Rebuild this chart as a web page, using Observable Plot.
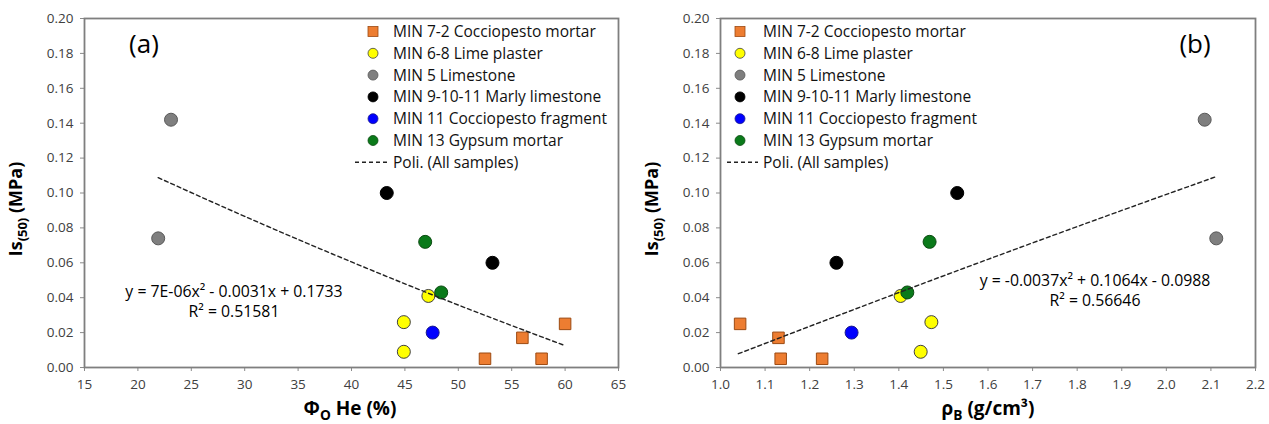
<!DOCTYPE html>
<html>
<head>
<meta charset="utf-8">
<script src="https://cdn.jsdelivr.net/npm/d3@7"></script>
<script src="https://cdn.jsdelivr.net/npm/@observablehq/plot@0.6"></script>
<style>
  html, body { margin: 0; padding: 0; background: #fff; }
  #wrap { display: flex; width: 1269px; height: 424px; }
</style>
</head>
<body>
<div id="wrap"></div>
<script>
// ---- data ----
const groups = ["MIN 7-2 Cocciopesto mortar", "MIN 6-8 Lime plaster", "MIN 5 Limestone",
  "MIN 9-10-11 Marly limestone", "MIN 11 Cocciopesto fragment", "MIN 13 Gypsum mortar"];
const groupFill = ["#ED7D31", "#FFFF00", "#7F7F7F", "#000000", "#0000FF", "#0A7A1A"];
const groupStroke = ["#9C4A12", "#404040", "#595959", "#000000", "#1a1a8c", "#0a4a10"];
const groupSymbol = ["square", "circle", "circle", "circle", "circle", "circle"];

const sampleGroup = [0, 0, 0, 0, 1, 1, 1, 2, 2, 3, 3, 4, 5, 5];
const porosity = [52.5, 56.0, 57.8, 60.0, 44.9, 44.9, 47.2, 21.9, 23.1, 43.3, 53.2, 47.6, 46.9, 48.4];
const density = [1.228, 1.130, 1.135, 1.044, 1.473, 1.449, 1.404, 2.112, 2.086, 1.531, 1.260, 1.294, 1.469, 1.419];
const strength = [0.005, 0.017, 0.005, 0.025, 0.026, 0.009, 0.041, 0.074, 0.142, 0.100, 0.060, 0.020, 0.072, 0.043];

const trendAx = [21.9, 30, 40, 50, 60];
const trendAy = [0.1088, 0.0866, 0.0605, 0.0358, 0.0125];
const trendBx = [1.04, 1.3, 1.6, 1.9, 2.11];
const trendBy = [0.0079, 0.0333, 0.0620, 0.0900, 0.1092];

const xTicksA = [15, 20, 25, 30, 35, 40, 45, 50, 55, 60, 65];
const xTicksB = [1.0, 1.1, 1.2, 1.3, 1.4, 1.5, 1.6, 1.7, 1.8, 1.9, 2.0, 2.1, 2.2];
const yTicks = [0, 0.02, 0.04, 0.06, 0.08, 0.10, 0.12, 0.14, 0.16, 0.18, 0.20];

const eqA = ["y = 7E-06x² - 0.0031x + 0.1733", "R² = 0.51581"];
const eqB = ["y = -0.0037x² + 0.1064x - 0.0988", "R² = 0.56646"];
const trendLabel = "Poli. (All samples)";

// ---- build tables ----
const samples = strength.map((s, i) => ({
  g: sampleGroup[i], phi: porosity[i], rho: density[i], is: s
}));
const trendA = trendAx.map((x, i) => ({x, y: trendAy[i]}));
const trendB = trendBx.map((x, i) => ({x, y: trendBy[i]}));

const FONT = "'Open Sans', Lato, sans-serif";

function makePanel({width, marginLeft, marginRight, xDomain, xTicks, xFmt, xKey, trend}) {
  return Plot.plot({
    width, height: 424,
    marginLeft, marginRight, marginTop: 18, marginBottom: 57,
    style: {fontFamily: FONT, fontSize: "13.5px", background: "#fff", color: "#404040", overflow: "visible"},
    x: {domain: xDomain},
    y: {domain: [0, 0.2]},
    symbol: {type: "identity"},
    marks: [
      Plot.axisY({ticks: yTicks, tickFormat: d3.format(".2f"), tickSize: 4, tickPadding: 7,
        label: null, stroke: "#8a8a8a", fill: "#404040", fontSize: 13.5}),
      Plot.axisX({ticks: xTicks, tickFormat: xFmt, tickSize: 4, tickPadding: 8,
        label: null, stroke: "#8a8a8a", fill: "#404040", fontSize: 13.5}),
      Plot.dot(samples, {
        x: xKey, y: "is", r: 6.5,
        symbol: d => groupSymbol[d.g],
        fill: d => groupFill[d.g],
        stroke: d => groupStroke[d.g],
        strokeWidth: 1
      }),
      Plot.line(trend, {x: "x", y: "y", curve: "natural", stroke: "#222",
        strokeWidth: 1.4, strokeDasharray: "4,3"}),
      Plot.frame({stroke: "#7f7f7f", strokeWidth: 1.8})
    ]
  });
}

function addText(svg, {x, y, anchor = "middle", size = 15, weight = "normal", rotate = 0, fill = "#000", parts}) {
  const t = d3.select(svg).append("text")
    .attr("transform", `translate(${x},${y}) rotate(${rotate})`)
    .attr("text-anchor", anchor)
    .attr("font-family", FONT)
    .attr("font-size", size)
    .attr("font-weight", weight)
    .attr("fill", fill);
  let shift = 0;
  for (const p of parts) {
    const [str, kind] = Array.isArray(p) ? p : [p, null];
    const ts = t.append("tspan").text(str);
    if (kind === "sub") {
      ts.attr("dy", (0.28 * size - shift) + "px").attr("font-size", size * 0.72);
      shift = 0.28 * size;
    } else if (shift) {
      ts.attr("dy", (-shift) + "px");
      shift = 0;
    }
  }
  return t;
}

function addLegend(svg, markerX, textX, top, step, dashX0, dashX1) {
  const g = d3.select(svg).append("g").attr("text-anchor", "start");
  groups.forEach((name, i) => {
    const y = top + i * step;
    if (groupSymbol[i] === "square") {
      g.append("rect").attr("x", markerX - 5).attr("y", y - 5).attr("width", 10).attr("height", 10)
        .attr("fill", groupFill[i]).attr("stroke", groupStroke[i]).attr("stroke-width", 0.8);
    } else {
      g.append("circle").attr("cx", markerX).attr("cy", y).attr("r", 5)
        .attr("fill", groupFill[i]).attr("stroke", groupStroke[i]).attr("stroke-width", 0.8);
    }
    g.append("text").attr("x", textX).attr("y", y).attr("dy", "0.36em").attr("text-anchor", "start")
      .attr("font-family", FONT).attr("font-size", 15.5).attr("fill", "#111").text(name);
  });
  const yd = top + groups.length * step;
  g.append("line").attr("x1", dashX0).attr("x2", dashX1).attr("y1", yd).attr("y2", yd)
    .attr("stroke", "#222").attr("stroke-width", 1.4).attr("stroke-dasharray", "4,3");
  g.append("text").attr("x", textX).attr("y", yd).attr("dy", "0.36em").attr("text-anchor", "start")
    .attr("font-family", FONT).attr("font-size", 15.5).attr("fill", "#111").text(trendLabel);
}

const wrap = document.getElementById("wrap");

// Panel (a)
const svgA = makePanel({width: 634, marginLeft: 84, marginRight: 16, xDomain: [15, 65],
  xTicks: xTicksA, xFmt: d3.format("d"), xKey: "phi", trend: trendA});
wrap.appendChild(svgA);
addText(svgA, {x: 22, y: 209, rotate: -90, size: 18, weight: "bold", parts: ["Is", ["(50)", "sub"], " (MPa)"]});
addText(svgA, {x: 350, y: 415, size: 19, weight: "bold", parts: ["Φ", ["O", "sub"], " He (%)"]});
addText(svgA, {x: 144, y: 53, size: 26, parts: ["(a)"]});
addText(svgA, {x: 234, y: 297, size: 15.8, parts: [eqA[0]]});
addText(svgA, {x: 234, y: 317, size: 15.8, parts: [eqA[1]]});
addLegend(svgA, 373, 393, 31.5, 21.8, 355, 388);

// Panel (b)
const svgB = makePanel({width: 635, marginLeft: 86, marginRight: 14, xDomain: [1.0, 2.2],
  xTicks: xTicksB, xFmt: d3.format(".1f"), xKey: "rho", trend: trendB});
wrap.appendChild(svgB);
addText(svgB, {x: 24, y: 209, rotate: -90, size: 18, weight: "bold", parts: ["Is", ["(50)", "sub"], " (MPa)"]});
addText(svgB, {x: 354, y: 415, size: 19, weight: "bold", parts: ["ρ", ["B", "sub"], " (g/cm³)"]});
addText(svgB, {x: 561, y: 53, size: 26, parts: ["(b)"]});
addText(svgB, {x: 461, y: 285.5, size: 15.8, parts: [eqB[0]]});
addText(svgB, {x: 461, y: 305.5, size: 15.8, parts: [eqB[1]]});
addLegend(svgB, 106, 129, 31.5, 21.8, 93, 124);
</script>
</body>
</html>
